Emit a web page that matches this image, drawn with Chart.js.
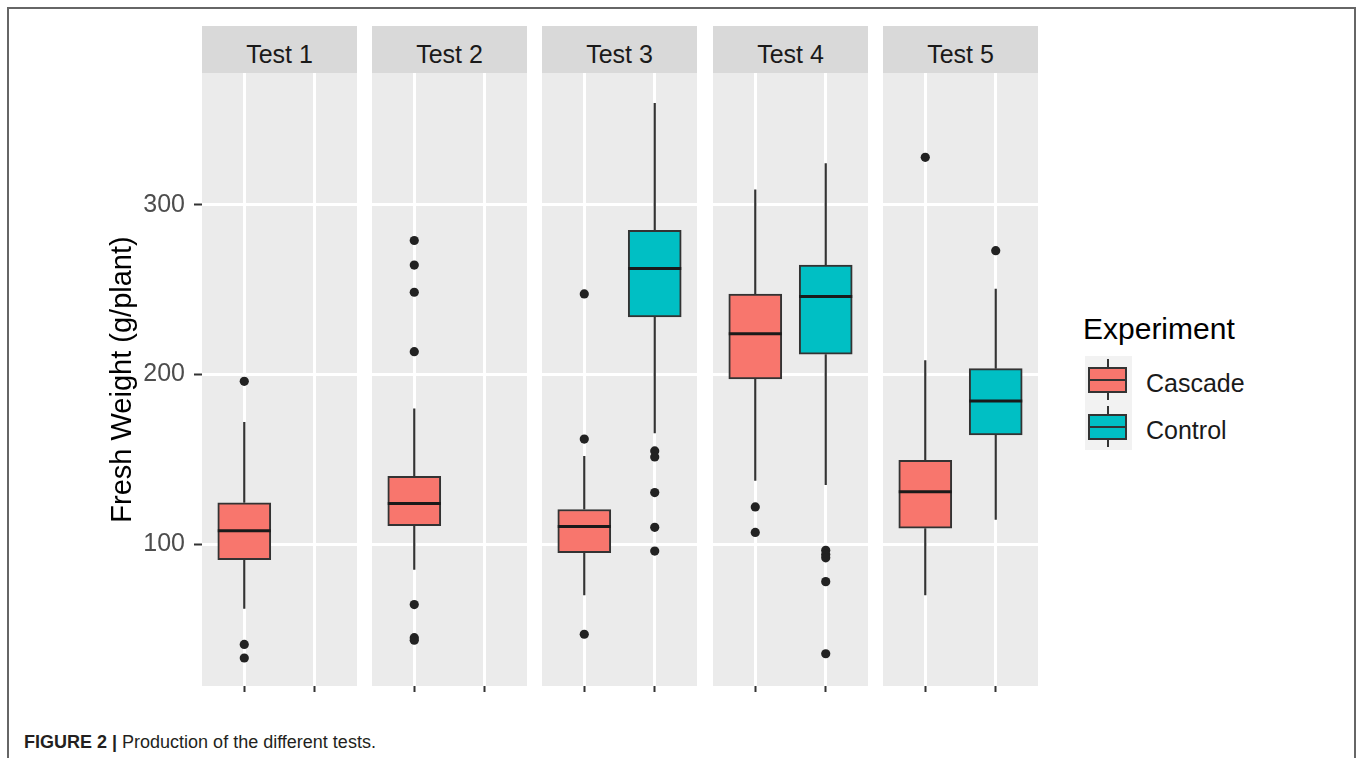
<!DOCTYPE html>
<html>
<head>
<meta charset="utf-8">
<title>Production of the different tests</title>
<script src="https://cdn.jsdelivr.net/npm/chart.js@4.4.1/dist/chart.umd.min.js"></script>
<style>
  html, body { margin: 0; padding: 0; background: #fff; }
  body { width: 1358px; height: 758px; position: relative; overflow: hidden; font-family: "Liberation Sans", Arial, sans-serif; }
  #frame { position: absolute; left: 7px; top: 7px; width: 1345px; height: 800px; border: 2px solid #666; border-bottom: none; }
  .strip { position: absolute; top: 26px; height: 47px; background: #d9d9d9; color: #1a1a1a; font-size: 25px; line-height: 47px; text-align: center; }
  .strip span { position: relative; top: 5px; }
  canvas { position: absolute; }
  .lg-title { position: absolute; left: 1083px; top: 314px; font-size: 30px; line-height: 30px; color: #000; }
  .key { position: absolute; left: 1085px; width: 47px; height: 47px; background: #f2f2f2; }
  .key .wh { position: absolute; left: 21.5px; top: 3px; width: 2px; height: 41px; background: #333; }
  .key .bx { position: absolute; left: 3px; top: 11px; width: 35px; height: 22px; border: 2px solid #333; }
  .key .md { position: absolute; left: 0; top: 10px; width: 35px; height: 2px; background: #333; }
  .lg-label { position: absolute; left: 1146px; font-size: 25px; line-height: 25px; color: #1a1a1a; }
  #caption { position: absolute; left: 24px; top: 733px; font-size: 18px; line-height: 18px; color: #231f20; white-space: nowrap; }
  #caption b { color: #231f20; }
</style>
</head>
<body>
<div id="frame"></div>
<div id="plots"></div>
<div id="legend"></div>
<div id="caption"><b>FIGURE 2 |</b> Production of the different tests.</div>

<script>
const TESTS = ["Test 1", "Test 2", "Test 3", "Test 4", "Test 5"];
const GROUPS = ["Cascade", "Control"];
const GROUP_X = [1, 2];

// [lower whisker, Q1, median, Q3, upper whisker], null = no plants in that group
const CASCADE_STATS = [
  [62, 91, 108, 124.5, 172],
  [85, 111, 124, 140, 180],
  [70, 95, 110.5, 120.5, 152],
  [137.5, 197.5, 224, 247.5, 309],
  [70, 109.5, 131, 149.5, 208.5],
];
const CONTROL_STATS = [
  null,
  null,
  [165.5, 234, 262.5, 285, 360],
  [135, 212, 246, 264.5, 324.5],
  [114.5, 164.5, 184.5, 203.5, 250.5],
];

const CASCADE_OUTLIERS = [
  [196, 41, 33],
  [279, 264.5, 248.5, 213.5, 64.5, 45, 43.5],
  [247.5, 162, 47],
  [122, 107],
  [328],
];
const CONTROL_OUTLIERS = [
  [],
  [],
  [155, 151.5, 130.5, 110, 96],
  [96.5, 94, 92, 78, 35.5],
  [273],
];

const Y_MAJOR = [100, 200, 300];
const Y_MINOR = [50, 150, 250, 350];

const COLORS = { Cascade: "#F8766D", Control: "#00BFC4" };
const INK = "#333333";
const FONT = "'Liberation Sans', Arial, sans-serif";

// panel geometry
const PANEL_LEFT = [202, 372, 542, 713, 883];
const PANEL_W = 155;
const PANEL_TOP = 73;
const PANEL_H = 613;
const AXIS_W = 96;
const TICK_H = 8;

const plots = document.getElementById("plots");

const panelBg = {
  id: "panelBg",
  beforeDraw(chart) {
    const { ctx, chartArea: a } = chart;
    ctx.save();
    ctx.fillStyle = "#EBEBEB";
    ctx.fillRect(a.left, a.top, a.right - a.left, a.bottom - a.top);
    ctx.restore();
  },
};

// whiskers under the boxes, medians on top of them
function boxParts(stats) {
  return {
    id: "boxParts",
    beforeDatasetsDraw(chart) {
      const { ctx } = chart;
      const xs = chart.scales.x, ys = chart.scales.y;
      ctx.save();
      ctx.strokeStyle = INK;
      ctx.lineWidth = 2.2;
      stats.forEach((s, g) => {
        if (!s) return;
        const x = xs.getPixelForValue(GROUP_X[g]);
        ctx.beginPath();
        ctx.moveTo(x, ys.getPixelForValue(s[0]));
        ctx.lineTo(x, ys.getPixelForValue(s[1]));
        ctx.moveTo(x, ys.getPixelForValue(s[3]));
        ctx.lineTo(x, ys.getPixelForValue(s[4]));
        ctx.stroke();
      });
      ctx.restore();
    },
    afterDatasetsDraw(chart) {
      const { ctx } = chart;
      const meta = chart.getDatasetMeta(0);
      const ys = chart.scales.y;
      ctx.save();
      ctx.strokeStyle = "#1a1a1a";
      ctx.lineWidth = 3;
      meta.data.forEach((bar, j) => {
        const s = meta._dataset.data[j].stats;
        const y = ys.getPixelForValue(s[2]);
        ctx.beginPath();
        ctx.moveTo(bar.x - bar.width / 2, y);
        ctx.lineTo(bar.x + bar.width / 2, y);
        ctx.stroke();
      });
      ctx.restore();
    },
  };
}

function makePanel(i) {
  const first = i === 0;
  const left = PANEL_LEFT[i] - (first ? AXIS_W : 0);
  const width = PANEL_W + (first ? AXIS_W : 0);

  const strip = document.createElement("div");
  strip.className = "strip";
  strip.style.left = PANEL_LEFT[i] + "px";
  strip.style.width = PANEL_W + "px";
  strip.innerHTML = "<span>" + TESTS[i] + "</span>";
  plots.appendChild(strip);

  const canvas = document.createElement("canvas");
  canvas.width = width;
  canvas.height = PANEL_H + TICK_H;
  canvas.style.left = left + "px";
  canvas.style.top = PANEL_TOP + "px";
  canvas.style.width = width + "px";
  canvas.style.height = PANEL_H + TICK_H + "px";
  plots.appendChild(canvas);

  const stats = [CASCADE_STATS[i], CONTROL_STATS[i]];
  const outliers = [CASCADE_OUTLIERS[i], CONTROL_OUTLIERS[i]];

  const boxData = [];
  const boxColors = [];
  stats.forEach((s, g) => {
    if (!s) return;
    boxData.push({ x: GROUP_X[g], y: [s[1], s[3]], stats: s });
    boxColors.push(COLORS[GROUPS[g]]);
  });
  const pointData = [];
  outliers.forEach((list, g) => list.forEach((v) => pointData.push({ x: GROUP_X[g], y: v })));

  new Chart(canvas, {
    type: "bar",
    data: {
      datasets: [
        {
          label: "box",
          data: boxData,
          backgroundColor: boxColors,
          borderColor: INK,
          borderWidth: 2,
          borderSkipped: false,
          barThickness: 53,
        },
        {
          type: "scatter",
          label: "outliers",
          data: pointData,
          pointRadius: 4.6,
          pointBackgroundColor: "#222",
          pointBorderWidth: 0,
        },
      ],
    },
    options: {
      responsive: false,
      animation: false,
      devicePixelRatio: 1,
      layout: { padding: 0, autoPadding: false },
      plugins: { legend: { display: false }, tooltip: { enabled: false } },
      scales: {
        x: {
          type: "linear",
          min: 0.4,
          max: 2.6,
          offset: false,
          afterBuildTicks: (s) => { s.ticks = GROUP_X.map((v) => ({ value: v })); },
          afterFit: (s) => { s.height = TICK_H; s.paddingLeft = 0; s.paddingRight = 0; },
          border: { display: false },
          grid: { offset: false, color: "#ffffff", lineWidth: 3, tickLength: 6, tickColor: INK, tickWidth: 2 },
          ticks: { display: false },
        },
        y: {
          min: 16.5,
          max: 377.7,
          afterBuildTicks: (s) => {
            s.ticks = Y_MINOR.concat(Y_MAJOR).sort((a, b) => a - b).map((v) => ({ value: v }));
          },
          afterFit: (s) => { s.width = first ? AXIS_W : 0; s.paddingTop = 0; s.paddingBottom = 0; },
          border: { display: false },
          grid: {
            color: "#ffffff",
            lineWidth: (c) => (Y_MAJOR.includes(c.tick.value) ? 3 : 1.5),
            drawTicks: first,
            tickLength: 8,
            tickWidth: 2,
            tickColor: (c) => (Y_MAJOR.includes(c.tick.value) ? INK : "rgba(0,0,0,0)"),
          },
          ticks: {
            display: first,
            padding: 9,
            color: "#4D4D4D",
            font: { size: 25, family: FONT },
            callback: (v) => (Y_MAJOR.includes(v) ? String(v) : null),
          },
          title: {
            display: first,
            text: "Fresh Weight (g/plant)",
            color: "#000",
            font: { size: 29, family: FONT },
            padding: 0,
          },
        },
      },
    },
    plugins: [panelBg, boxParts(stats)],
  });
}

TESTS.forEach((t, i) => makePanel(i));

// legend
const legend = document.getElementById("legend");
legend.innerHTML = '<div class="lg-title">Experiment</div>';
GROUPS.forEach((g, r) => {
  const top = 356 + r * 47;
  legend.innerHTML +=
    '<div class="key" style="top:' + top + 'px"><div class="wh"></div>' +
    '<div class="bx" style="background:' + COLORS[g] + '"><div class="md"></div></div></div>' +
    '<div class="lg-label" style="top:' + (top + 15) + 'px">' + g + "</div>";
});
</script>
</body>
</html>
